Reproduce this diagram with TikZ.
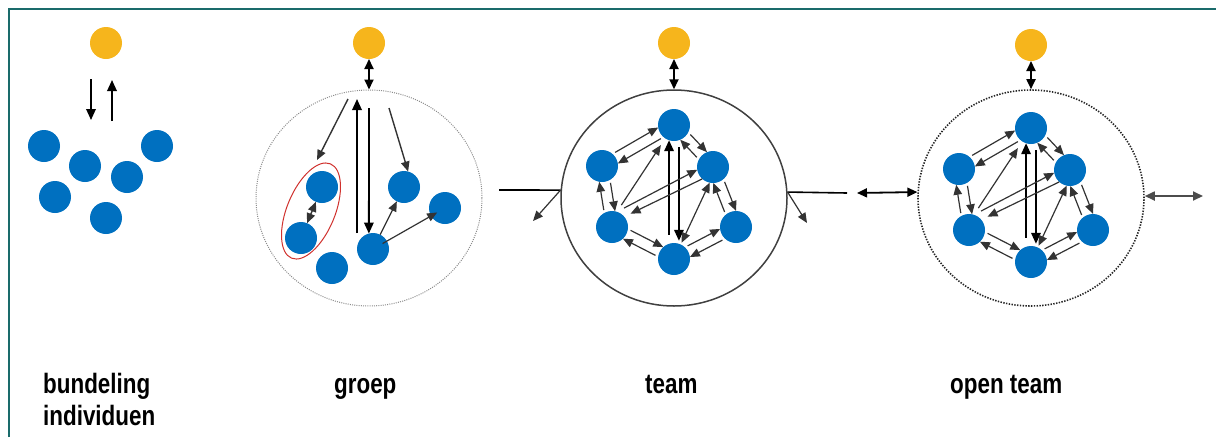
\documentclass[tikz,border=0pt]{standalone}
\usepackage{fontspec}
\setmainfont{Liberation Sans}
\newfontfamily\capfont{Liberation Sans}[FakeStretch=0.8]
\usetikzlibrary{arrows.meta,calc,shapes.geometric}

\definecolor{framecol}{HTML}{1A6B6B}
\definecolor{dotblue}{HTML}{0070C0}
\definecolor{dotgold}{HTML}{F6B51C}
\definecolor{ringred}{HTML}{D0312D}

\tikzset{
  member/.style={circle, fill=dotblue, minimum size=32pt, inner sep=0pt, outer sep=0pt},
  leader/.style={circle, fill=dotgold, minimum size=32pt, inner sep=0pt, outer sep=0pt},
  flow/.style={-{Triangle[length=11pt,width=9.5pt]}, line width=1.8pt, black},
  link/.style={-{Triangle[length=10pt,width=8.5pt]}, line width=1.2pt, black!80},
  twohead/.style={{Triangle[length=10pt,width=9pt]}-{Triangle[length=10pt,width=9pt]}, line width=1.8pt, black},
  thinboth/.style={{Triangle[length=10pt,width=8.5pt]}-{Triangle[length=10pt,width=8.5pt]}, line width=1.2pt, black!80},
  caption/.style={font=\capfont\bfseries\fontsize{28}{32}\selectfont, inner sep=0pt, anchor=base west},
  ring/.style={ellipse, minimum width=226pt, minimum height=216pt, inner sep=0pt},
}

% two parallel, opposite arrows between two member nodes
\newcommand\twoway[2]{%
  \draw[link, shorten <=3pt] let \p1=($(#2)-(#1)$), \n1={atan2(\y1,\x1)},
        \n2={\n1+20}, \n3={\n1+160} in (#1.\n2) -- (#2.\n3);
  \draw[link, shorten <=3pt] let \p1=($(#2)-(#1)$), \n1={atan2(\y1,\x1)},
        \n2={\n1+200}, \n3={\n1-20} in (#2.\n2) -- (#1.\n3);
}

% six members in a ring, all talking to each other
\newcommand\hexnet[3]{%
  \begin{scope}[shift={(#2,#3)}]
    \node[member] (#1T)  at (0,0) {};
    \node[member] (#1UL) at (-72,41) {};
    \node[member] (#1UR) at (39,42) {};
    \node[member] (#1LL) at (-62,102) {};
    \node[member] (#1LR) at (62,102) {};
    \node[member] (#1B)  at (0,134) {};
  \end{scope}
  \twoway{#1UL}{#1T}
  \twoway{#1T}{#1UR}
  \twoway{#1UL}{#1LL}
  \twoway{#1UR}{#1LR}
  \twoway{#1LL}{#1B}
  \twoway{#1B}{#1LR}
  \draw[flow, shorten <=9pt] (#1B.108) -- (#1T.252);
  \draw[flow, shorten <=7pt, shorten >=3pt] (#1T.-72) -- (#1B.72);
  \draw[link, shorten <=8pt, shorten >=8pt] (#1LL.72) -- (#1T.237);
  \draw[link, shorten <=8pt] (#1LL.72) -- (#1UR.190);
  \draw[link, shorten >=7pt] (#1UR.228) -- (#1LL.40);
  \draw[thinboth, shorten >=2pt] (#1UR.258) -- (#1B.65);
}

\begin{document}
\begin{tikzpicture}[x=1pt,y=-1pt]
\useasboundingbox (0,0) rectangle (1216,437);

% frame
\draw[framecol, line width=2pt] (9,437) -- (9,9) -- (1216,9);

% ---- bundeling individuen ----
\node[leader] (y1) at (106,43) {};
\node[member] (a1) at (44,146) {};
\node[member] (a2) at (85,166) {};
\node[member] (a3) at (127,177) {};
\node[member] (a4) at (157,146) {};
\node[member] (a5) at (55,197) {};
\node[member] (a6) at (106,218) {};
\coordinate (dn1) at (91,79);
\coordinate (dn2) at (91,120);
\coordinate (up1) at (112,121);
\coordinate (up2) at (112,80);
\draw[flow] (dn1) -- (dn2);
\draw[flow] (up1) -- (up2);

% ---- groep ----
\node[leader] (y2) at (369,43) {};
\node[ring, draw=black!45, line width=1pt, dash pattern=on 1pt off 1.2pt] (gc) at (369,198) {};
\draw[twohead] (y2) -- (gc.north);
\node[member] (g1) at (322,187) {};
\node[member] (g2) at (301,238) {};
\node[member] (g3) at (332,268) {};
\node[member] (g4) at (373,249) {};
\node[member] (g5) at (404,187) {};
\node[member] (g6) at (445,208) {};
\node[ellipse, draw=ringred, line width=1pt, minimum width=102pt, minimum height=48pt,
      inner sep=0pt, rotate=67.6] (pairring) at (311,211) {};
\coordinate (ga1) at (348,99);
\coordinate (ga2) at (317,160);
\coordinate (gu1) at (357,233);
\coordinate (gu2) at (357,99);
\coordinate (gd1) at (369,108);
\coordinate (gr1) at (389,108);
\draw[link, line width=1.4pt] (ga1) -- (ga2);
\draw[flow] (gu1) -- (gu2);
\draw[flow] (gd1) -- (g4.105);
\draw[link, line width=1.4pt] (gr1) -- (g5.75);
\draw[thinboth, line width=1.4pt] (g1) -- (g2);
\draw[link] (g4) -- (g5);
\draw[link, shorten >=-7pt, shorten <=-5pt] (g4) -- (g6);

% ---- team ----
\node[leader] (y3) at (674,43) {};
\node[ring, draw=black!75, line width=1.5pt] (tc) at (674,198) {};
\draw[twohead] (y3) -- (tc.north);
\hexnet{t}{674}{125}
\coordinate (tl) at (499,190);
\coordinate (tld) at (533,221);
\coordinate (tr) at (847,193);
\coordinate (trd) at (807,223);
\draw[line width=1.6pt] (tl) -- (tc.176);
\draw[link] (tc.176) -- (tld);
\draw[line width=1.6pt] (tc.3) -- (tr);
\draw[link] (tc.3) -- (trd);

% ---- open team ----
\node[leader] (y4) at (1031,45) {};
\node[ring, draw=black!85, line width=1.6pt, dash pattern=on 1.4pt off 1.4pt] (oc) at (1031,198) {};
\draw[twohead] (y4) -- (oc.north);
\hexnet{o}{1031}{128}
\coordinate (ol) at (857,193);
\coordinate (or) at (1203,196);
\draw[twohead] (ol) -- (oc.177);
\draw[twohead, black!70] (oc.1) -- (or);

% ---- captions ----
\node[caption, anchor=north west, align=left] (c1) at (43,373) {bundeling\\individuen};
\node[caption] (c2) at (334,393) {groep};
\node[caption] (c3) at (645,393) {team};
\node[caption] (c4) at (950,393) {open team};
\end{tikzpicture}
\end{document}
